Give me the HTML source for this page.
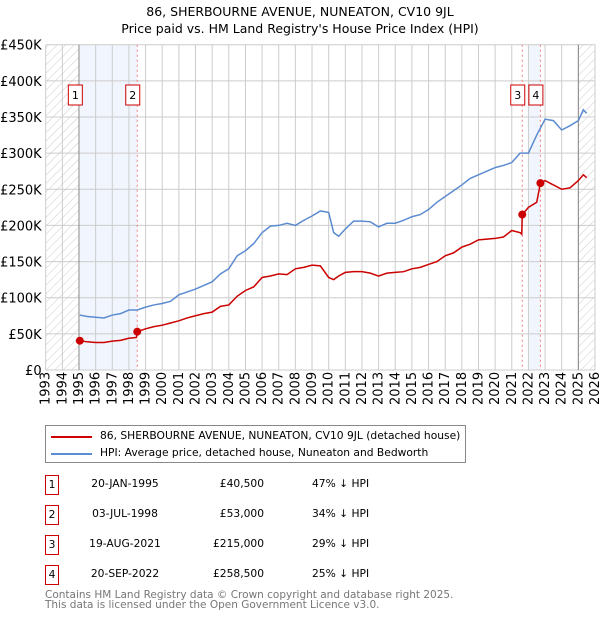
<!DOCTYPE html>
<html><head><meta charset="utf-8"><style>
body{margin:0;background:#fff;font-family:"DejaVu Sans","Liberation Sans",sans-serif;}
#wrap{position:relative;width:600px;height:620px;overflow:hidden;}
svg text{font-family:"DejaVu Sans","Liberation Sans",sans-serif;}
</style></head><body><div id="wrap">
<svg id="chart" width="600" height="620">
<defs><pattern id="hatch" width="6" height="6" patternUnits="userSpaceOnUse" patternTransform="rotate(45)"><line x1="0" y1="0" x2="0" y2="6" stroke="#ccc" stroke-width="1"/></pattern></defs>
<text x="300" y="16" text-anchor="middle" font-size="12.5">86, SHERBOURNE AVENUE, NUNEATON, CV10 9JL</text>
<text x="300" y="33" text-anchor="middle" font-size="12.5">Price paid vs. HM Land Registry's House Price Index (HPI)</text>
<g id="g"></g>
</svg>
<div style="position:absolute;left:45px;top:425px;width:419px;height:36px;border:1px solid #888;font-size:10.7px;">
<div style="position:absolute;left:5px;top:10px;width:41px;height:2px;background:#cc0000"></div>
<div style="position:absolute;left:54px;top:3px;white-space:nowrap">86, SHERBOURNE AVENUE, NUNEATON, CV10 9JL (detached house)</div>
<div style="position:absolute;left:5px;top:27px;width:41px;height:2px;background:#5b8bd0"></div>
<div style="position:absolute;left:54px;top:20px;white-space:nowrap">HPI: Average price, detached house, Nuneaton and Bedworth</div>
</div>
<div id="tbl"></div>
<div style="position:absolute;left:45px;top:590px;font-size:10.5px;color:#777;line-height:10px;white-space:nowrap">Contains HM Land Registry data © Crown copyright and database right 2025.<br>This data is licensed under the Open Government Licence v3.0.</div>
</div>
<script>
const hpiYears=[1995.05,1995.5,1996,1996.5,1997,1997.5,1998,1998.5,1999,1999.5,2000,2000.5,2001,2001.5,2002,2002.5,2003,2003.5,2004,2004.5,2005,2005.5,2006,2006.5,2007,2007.5,2008,2008.5,2009,2009.5,2010,2010.3,2010.6,2011,2011.5,2012,2012.5,2013,2013.5,2014,2014.5,2015,2015.5,2016,2016.5,2017,2017.5,2018,2018.5,2019,2019.5,2020,2020.5,2021,2021.5,2022,2022.5,2023,2023.5,2024,2024.5,2025,2025.3,2025.5];
const hpiValues=[76,74,73,72,76,78,83,83,87,90,92,95,104,108,112,117,122,133,140,158,165,175,190,199,200,203,200,207,213,220,218,190,185,195,206,206,205,198,203,203,207,212,215,222,232,240,248,256,265,270,275,280,283,287,300,300,325,347,345,332,338,345,360,355];
const saleYears=[1995.05,1998.5,2021.63,2022.72];
const saleValues=[40.5,53,215,258.5];
const ppYears=[1995.05,1995.5,1996,1996.5,1997,1997.5,1998,1998.45,1998.5,1999,1999.5,2000,2000.5,2001,2001.5,2002,2002.5,2003,2003.5,2004,2004.5,2005,2005.5,2006,2006.5,2007,2007.5,2008,2008.5,2009,2009.5,2010,2010.3,2010.6,2011,2011.5,2012,2012.5,2013,2013.5,2014,2014.5,2015,2015.5,2016,2016.5,2017,2017.5,2018,2018.5,2019,2019.5,2020,2020.5,2021,2021.5,2021.6,2021.63,2022,2022.5,2022.72,2023,2023.5,2024,2024.5,2025,2025.3,2025.5];
const ppValues=[40.5,39,38,38,40,41,44,45,53,57,60,62,65,68,72,75,78,80,88,90,102,110,115,128,130,133,132,140,142,145,144,128,125,130,135,136,136,134,130,134,135,136,140,142,146,150,158,162,170,174,180,181,182,184,193,190,188,215,225,232,258.5,262,256,250,252,262,270,266];
const yTicks=[0,50,100,150,200,250,300,350,400,450];
const yLabels=["£0","£50K","£100K","£150K","£200K","£250K","£300K","£350K","£400K","£450K"];
const xTicks=[1993,1994,1995,1996,1997,1998,1999,2000,2001,2002,2003,2004,2005,2006,2007,2008,2009,2010,2011,2012,2013,2014,2015,2016,2017,2018,2019,2020,2021,2022,2023,2024,2025,2026];
const saleLabels=["1","2","3","4"];
const saleDates=["20-JAN-1995","03-JUL-1998","19-AUG-2021","20-SEP-2022"];
const salePrices=["£40,500","£53,000","£215,000","£258,500"];
const salePct=["47% ↓ HPI","34% ↓ HPI","29% ↓ HPI","25% ↓ HPI"];

const L=45.7,R=595,T=44.7,B=370;
const X=y=>L+(y-1993)*(R-L)/33, Y=v=>B-v*(B-T)/450;
const NS="http://www.w3.org/2000/svg", g=document.getElementById('g');
function mk(t,a){const e=document.createElementNS(NS,t);for(const k in a)e.setAttribute(k,a[k]);g.appendChild(e);return e;}
let e;
e=mk('rect',{x:X(1995.05),y:T,width:X(1998.5)-X(1995.05),height:B-T,fill:'#eef3fc',opacity:0.8});

e=mk('rect',{x:X(2022),y:T,width:X(2022.72)-X(2022),height:B-T,fill:'#eef3fc',opacity:0.8});

e=mk('rect',{x:L,y:T,width:X(1995)-L,height:B-T,fill:'url(#hatch)'});

e=mk('rect',{x:X(2025),y:T,width:R-X(2025),height:B-T,fill:'url(#hatch)'});

xTicks.forEach(t=>{e=mk('line',{x1:X(t),x2:X(t),y1:T,y2:B,stroke:'#ccc'});

e=mk('text',{x:0,y:0,transform:`translate(${X(t)+4},${B+35}) rotate(-90)`,'font-size':13});e.textContent=t;
});
yTicks.forEach((t,i)=>{e=mk('line',{x1:L,x2:R,y1:Y(t),y2:Y(t),stroke:'#ccc'});

e=mk('text',{x:L-4,y:Y(t)+5,'text-anchor':'end','font-size':13});e.textContent=yLabels[i];
});
e=mk('line',{x1:X(1995),x2:X(1995),y1:T,y2:B,stroke:'#888'});

e=mk('line',{x1:X(2025),x2:X(2025),y1:T,y2:B,stroke:'#888'});

saleYears.forEach((s,i)=>{if(i>0){e=mk('line',{x1:X(s),x2:X(s),y1:T,y2:B,stroke:'#f08080','stroke-dasharray':'2,3'});
}
const bx=X(s)-4.5;
e=mk('rect',{x:bx-7,y:85,width:14,height:20,fill:'#fff',stroke:'#cc0000'});

e=mk('text',{x:bx,y:99,'text-anchor':'middle','font-size':11});e.textContent=saleLabels[i];
});
e=mk('polyline',{points:hpiYears.map((y,i)=>X(y)+','+Y(hpiValues[i])).join(' '),fill:'none',stroke:'#5b8bd0','stroke-width':1.5});

e=mk('polyline',{points:ppYears.map((y,i)=>X(y)+','+Y(ppValues[i])).join(' '),fill:'none',stroke:'#cc0000','stroke-width':1.5});

saleYears.forEach((s,i)=>{e=mk('circle',{cx:X(s),cy:Y(saleValues[i]),r:4,fill:'#cc0000'});
});
const tbl=document.getElementById('tbl');
saleLabels.forEach((l,i)=>{const y=475+30*i;
tbl.insertAdjacentHTML('beforeend',
`<div style="position:absolute;left:45px;top:${y}px;width:12px;height:18px;border:1px solid #cc0000;font-size:10.7px;text-align:center;line-height:18px">${l}</div>
<div style="position:absolute;left:70px;width:110px;top:${y+2}px;font-size:10.7px;text-align:center">${saleDates[i]}</div>
<div style="position:absolute;left:164px;width:100px;top:${y+2}px;font-size:10.7px;text-align:right">${salePrices[i]}</div>
<div style="position:absolute;left:312px;top:${y+2}px;font-size:10.7px;white-space:nowrap">${salePct[i]}</div>`);});
</script>
</body></html>
